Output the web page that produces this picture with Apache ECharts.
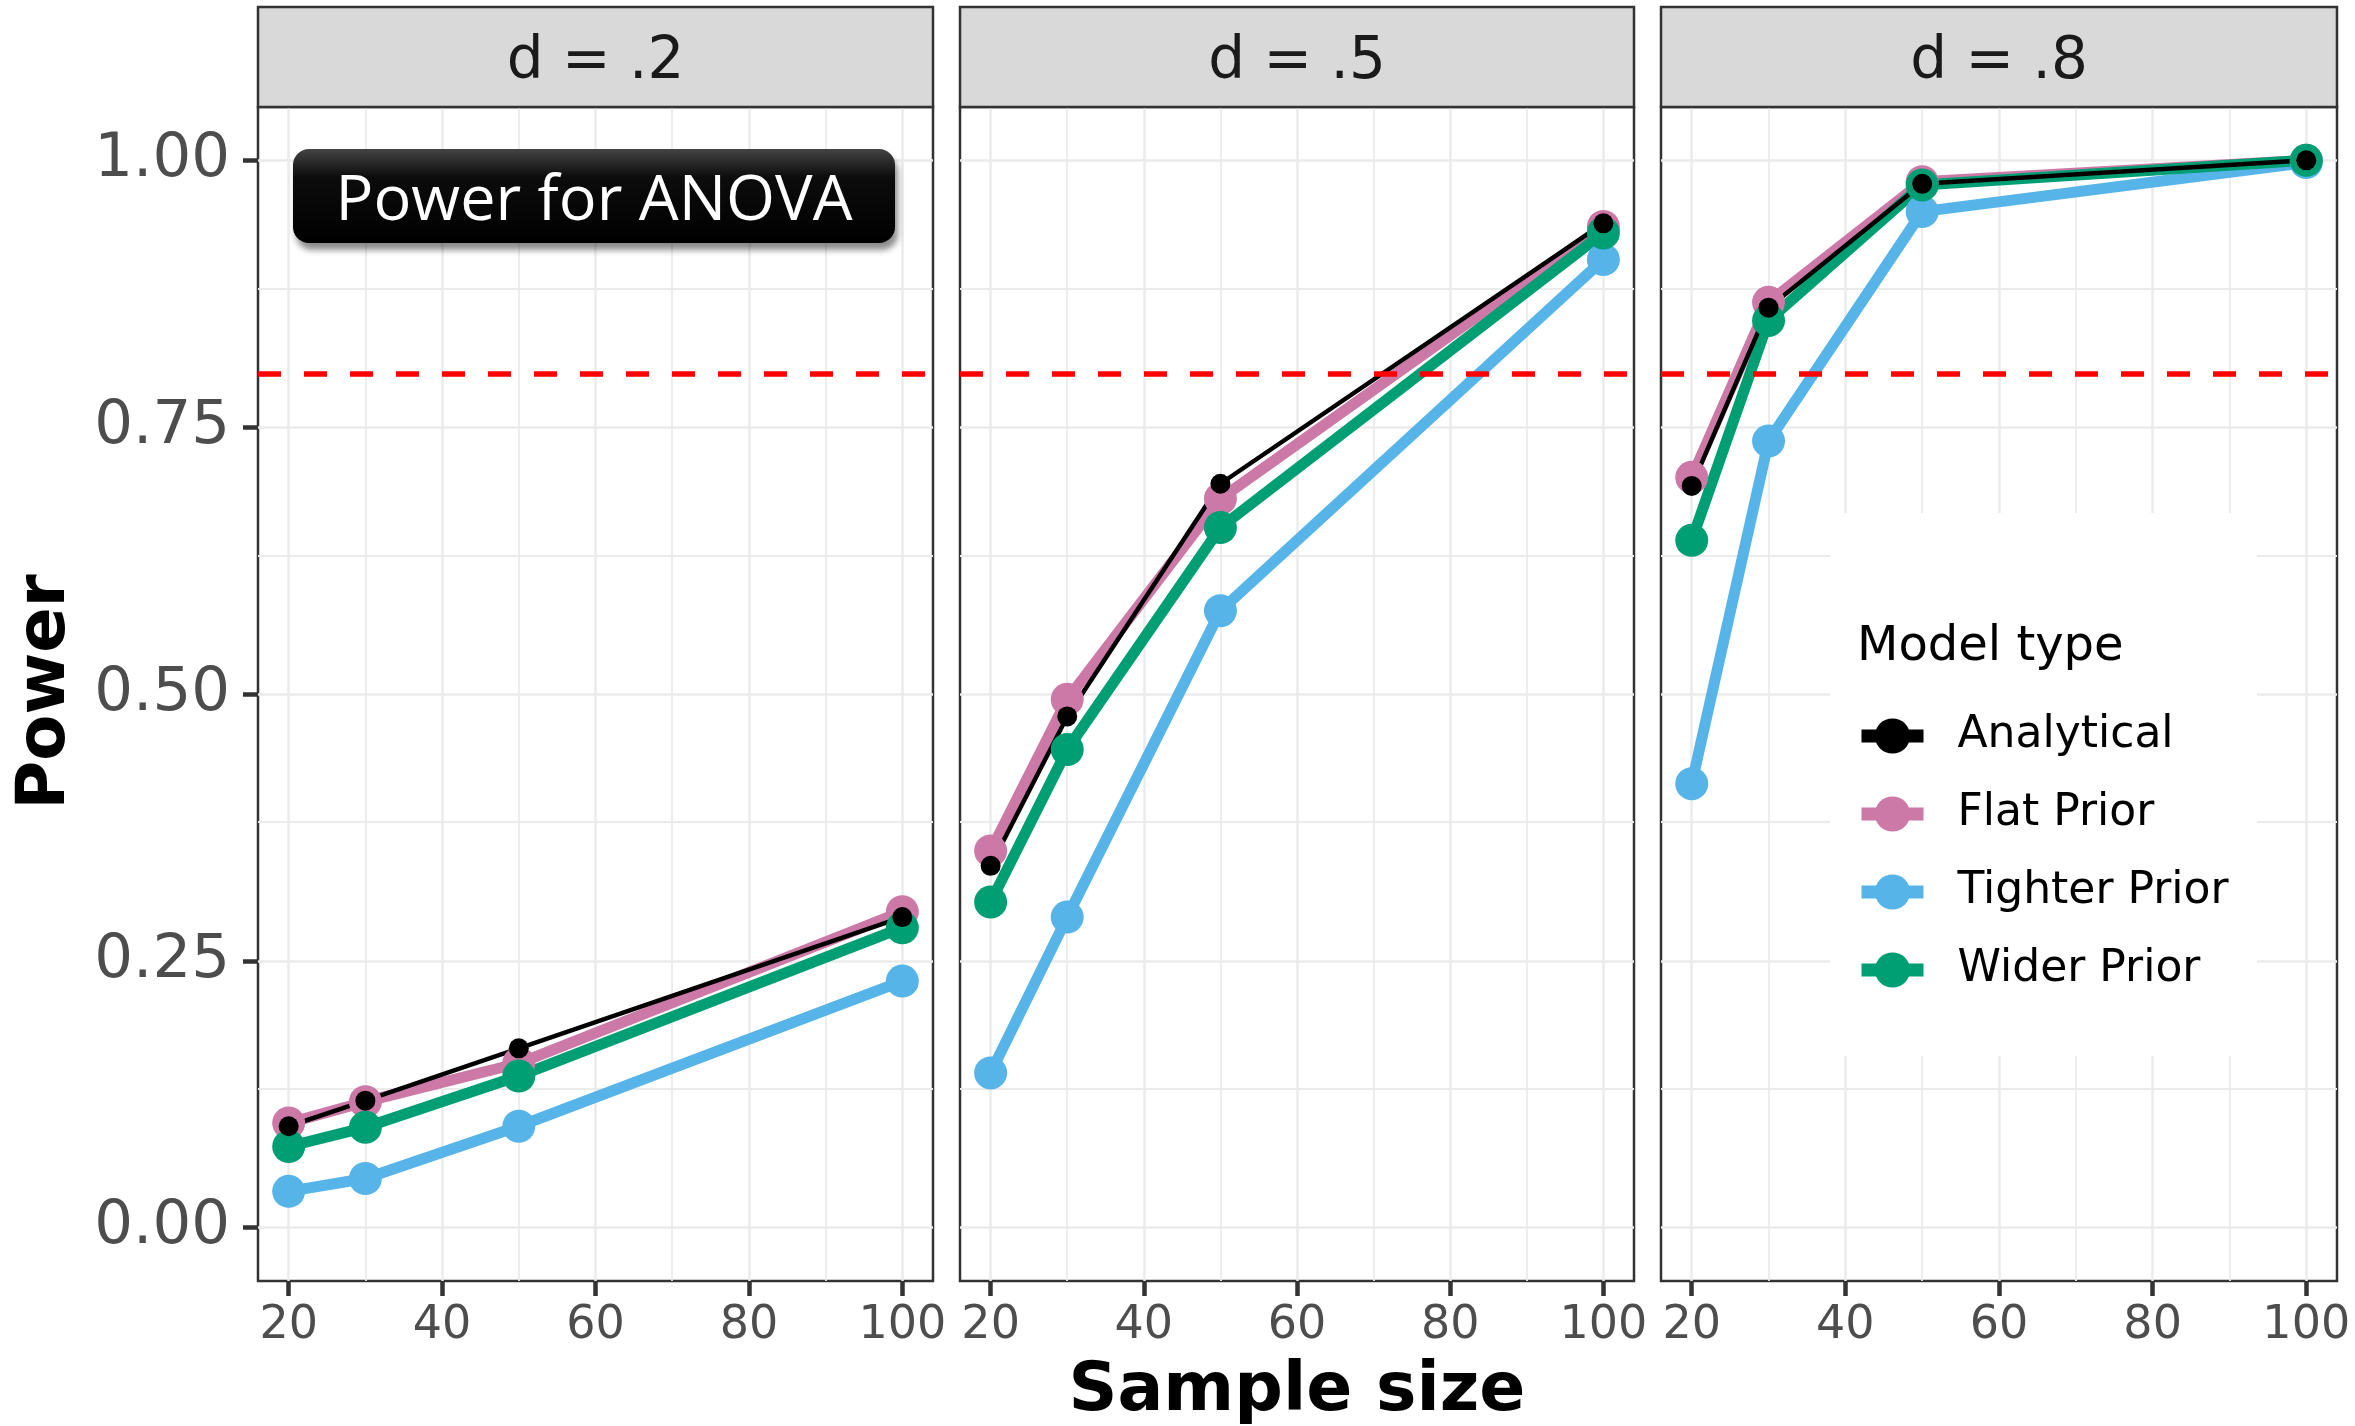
<!DOCTYPE html>
<html><head><meta charset="utf-8">
<script src="https://cdn.jsdelivr.net/npm/echarts@6/dist/echarts.min.js"></script>
<style>html,body{margin:0;padding:0;background:#fff}#c{width:2355px;height:1426px}</style>
</head><body><div id="c"></div>
<script>
// ---------- data ----------
const sampleSizes = [20, 30, 50, 100];
const panelLabels = ['d = .2', 'd = .5', 'd = .8'];
const modelTypes = ['Analytical', 'Flat Prior', 'Tighter Prior', 'Wider Prior'];

const analytical_d2 = [0.095, 0.119, 0.168, 0.291];
const flat_d2       = [0.098, 0.118, 0.154, 0.296];
const tighter_d2    = [0.034, 0.046, 0.095, 0.231];
const wider_d2      = [0.076, 0.094, 0.142, 0.281];

const analytical_d5 = [0.339, 0.479, 0.697, 0.941];
const flat_d5       = [0.353, 0.495, 0.683, 0.938];
const tighter_d5    = [0.145, 0.291, 0.578, 0.907];
const wider_d5      = [0.305, 0.448, 0.656, 0.932];

const analytical_d8 = [0.695, 0.862, 0.978, 1.000];
const flat_d8       = [0.703, 0.867, 0.980, 1.000];
const tighter_d8    = [0.416, 0.737, 0.952, 0.998];
const wider_d8      = [0.644, 0.850, 0.977, 1.000];

const xTicks = [20, 40, 60, 80, 100];
const xMinor = [30, 50, 70, 90];
const yTicks = [0, 0.25, 0.5, 0.75, 1.0];
const yMinor = [0.125, 0.375, 0.625, 0.875];
const powerTarget = 0.8;

// ---------- layout / style ----------
const colors = {'Analytical':'#000000','Flat Prior':'#CC79A7','Tighter Prior':'#56B4E9','Wider Prior':'#009E73'};
const panelBoxes = [{left:258, width:675},{left:960, width:674},{left:1661, width:676}];
const plotTop = 107, plotBottom = 1281, stripTop = 7;
const seriesByPanel = [
  {'Analytical':analytical_d2,'Flat Prior':flat_d2,'Tighter Prior':tighter_d2,'Wider Prior':wider_d2},
  {'Analytical':analytical_d5,'Flat Prior':flat_d5,'Tighter Prior':tighter_d5,'Wider Prior':wider_d5},
  {'Analytical':analytical_d8,'Flat Prior':flat_d8,'Tighter Prior':tighter_d8,'Wider Prior':wider_d8}
];
const drawOrder = ['Flat Prior','Tighter Prior','Wider Prior','Analytical'];

const chart = echarts.init(document.getElementById('c'), null, {renderer:'canvas'});

const grids = [], xAxes = [], yAxes = [], series = [], graphics = [];
panelBoxes.forEach((p, i) => {
  grids.push({left:p.left, width:p.width, top:plotTop, height:plotBottom-plotTop,
    show:true, borderColor:'#333333', borderWidth:2.5, backgroundColor:'transparent', containLabel:false});
  xAxes.push({type:'value', gridIndex:i, min:16, max:104, position:'bottom',
    axisLine:{show:false, onZero:false},
    axisTick:{show:true, length:15, lineStyle:{color:'#333333', width:4.5}, customValues:xTicks},
    axisLabel:{show:true, customValues:xTicks, margin:22, color:'#4D4D4D', fontSize:46, fontFamily:'DejaVu Sans'},
    splitLine:{show:false}, minorSplitLine:{show:false}});
  yAxes.push({type:'value', gridIndex:i, min:-0.05, max:1.05, show: i===0, position:'left',
    axisLine:{show:false, onZero:false},
    axisTick:{show:i===0, length:15, lineStyle:{color:'#333333', width:4.5}, customValues:yTicks},
    axisLabel:{show:i===0, customValues:yTicks, margin:28, color:'#4D4D4D', fontSize:61, fontFamily:'DejaVu Sans',
      formatter:v=>v.toFixed(2)},
    splitLine:{show:false}});
  // grid lines (drawn through the axes' scales)
  series.push({type:'line', name:'_grid'+i, xAxisIndex:i, yAxisIndex:i, data:[], silent:true,
    markLine:{silent:true, symbol:'none', label:{show:false}, emphasis:{disabled:true}, animation:false,
      lineStyle:{color:'#EBEBEB', type:'solid', width:2.5},
      data:[
        ...xTicks.map(v=>({xAxis:v})),
        ...xMinor.map(v=>({xAxis:v, lineStyle:{width:1.8}})),
        ...yTicks.map(v=>({yAxis:v})),
        ...yMinor.map(v=>({yAxis:v, lineStyle:{width:1.8}}))
      ]}});
  drawOrder.forEach(name => {
    const isA = name === 'Analytical';
    series.push({type:'line', name:name, xAxisIndex:i, yAxisIndex:i, z:10,
      data: sampleSizes.map((x, k) => [x, seriesByPanel[i][name][k]]),
      symbol:'circle', symbolSize: isA ? 20 : 33, showSymbol:true,
      lineStyle:{color:colors[name], width: isA ? 4.5 : 11},
      itemStyle:{color:colors[name]},
      emphasis:{disabled:true}, animation:false});
  });
  // target power line
  series.push({type:'line', name:'_target'+i, xAxisIndex:i, yAxisIndex:i, data:[], silent:true,
    markLine:{silent:true, z:30, symbol:'none', label:{show:false}, emphasis:{disabled:true}, animation:false,
      lineStyle:{color:'#FF0000', type:[23,23], width:5.7},
      data:[{yAxis:powerTarget}]}});
  // facet strip
  graphics.push({type:'rect', z:20, shape:{x:p.left, y:stripTop, width:p.width, height:plotTop-stripTop},
    style:{fill:'#D9D9D9', stroke:'#333333', lineWidth:2.5}});
  graphics.push({type:'text', z:21, x:p.left+p.width/2, y:63,
    style:{text:panelLabels[i], fill:'#1A1A1A', font:'58px "DejaVu Sans"', align:'center', verticalAlign:'middle'}});
});

// legend background + title
graphics.push({type:'rect', z:6, shape:{x:1830, y:513, width:427, height:543}, style:{fill:'#FFFFFF'}});
graphics.push({type:'text', z:21, x:1857, y:648,
  style:{text:'Model type', fill:'#000000', font:'48px "DejaVu Sans"', align:'left', verticalAlign:'middle'}});
// axis titles
graphics.push({type:'text', z:21, x:1297, y:1392,
  style:{text:'Sample size', fill:'#000000', font:'bold 68px "DejaVu Sans"', align:'center', verticalAlign:'middle'}});
graphics.push({type:'text', z:21, x:47, y:692, rotation:Math.PI/2,
  style:{text:'Power', fill:'#000000', font:'bold 67px "DejaVu Sans"', align:'center', verticalAlign:'middle'}});
// annotation box
graphics.push({type:'rect', z:22, shape:{x:293, y:149, width:602, height:94, r:16},
  style:{fill:new echarts.graphic.LinearGradient(0,0,0,1,[{offset:0,color:'#444444'},{offset:0.3,color:'#0c0c0c'},{offset:1,color:'#000000'}]),
    shadowColor:'rgba(0,0,0,0.45)', shadowBlur:6, shadowOffsetX:3, shadowOffsetY:7}});
graphics.push({type:'text', z:23, x:594, y:202,
  style:{text:'Power for ANOVA', fill:'#FFFFFF', font:'63px "Open Sans"', align:'center', verticalAlign:'middle'}});

chart.setOption({
  animation:false,
  backgroundColor:'#FFFFFF',
  grid:grids, xAxis:xAxes, yAxis:yAxes, series:series, graphic:graphics,
  legend:{data:modelTypes, orient:'vertical', left:1850, top:709, z:20,
    itemWidth:62, itemHeight:44, itemGap:34, selectedMode:false,
    lineStyle:{width:13},
    textStyle:{fontFamily:'DejaVu Sans', fontSize:44, color:'#000000', padding:[0,0,0,29]}}
});
</script></body></html>
